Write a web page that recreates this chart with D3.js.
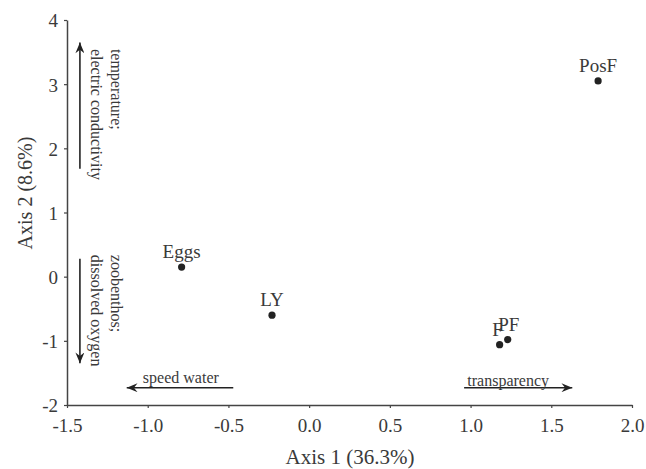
<!DOCTYPE html>
<html>
<head>
<meta charset="utf-8">
<script src="https://cdn.jsdelivr.net/npm/d3@7"></script>
<style>
  body { margin: 0; background: #fff; }
  text { font-family: "Liberation Serif", "Times New Roman", serif; fill: #3a3a3a; }
</style>
</head>
<body>
<div id="chart"></div>
<script>
// sample scores on the first two axes
var names = ["PosF", "Eggs", "LY", "F", "PF"];
var axis1 = [1.79, -0.79, -0.23, 1.18, 1.23];
var axis2 = [3.05, 0.15, -0.60, -1.06, -0.98];

var xTicks = [-1.5, -1.0, -0.5, 0.0, 0.5, 1.0, 1.5, 2.0];
var yTicks = [-2, -1, 0, 1, 2, 3, 4];

// environmental arrows (start, end in axis units)
var arrowNames = ["temperature;|electric conductivity", "zoobenthos;|dissolved oxygen", "speed water", "transparency"];
var arrowFrom = [[-1.42, 1.68], [-1.42, 0.28], [-0.47, -1.73], [0.96, -1.73]];
var arrowTo = [[-1.42, 3.65], [-1.42, -1.35], [-1.13, -1.73], [1.63, -1.73]];

var width = 646, height = 469;
var margin = {top: 20, right: 14, bottom: 64, left: 67};

var svg = d3.select("#chart").append("svg")
    .attr("width", width)
    .attr("height", height);

var x = d3.scaleLinear()
    .domain([-1.5, 2.0])
    .range([margin.left, width - margin.right]);
var y = d3.scaleLinear()
    .domain([-2, 4])
    .range([height - margin.bottom, margin.top]);

svg.append("defs").append("marker")
    .attr("id", "head")
    .attr("viewBox", "0 0 12 10")
    .attr("refX", 12).attr("refY", 5)
    .attr("markerWidth", 13).attr("markerHeight", 9)
    .attr("markerUnits", "userSpaceOnUse")
    .attr("orient", "auto")
  .append("path")
    .attr("d", "M0,0 L12,5 L0,10 L4,5 Z")
    .attr("fill", "#222");

var hyphen = function(f) { return function(d) { return f(d).replace("\u2212", "-"); }; };

// axes
var xAxis = svg.append("g")
    .attr("transform", "translate(0," + y(-2) + ")")
    .call(d3.axisBottom(x).tickValues(xTicks).tickFormat(hyphen(d3.format(".1f"))).tickSizeInner(3).tickSizeOuter(0).tickPadding(10));
var yAxis = svg.append("g")
    .attr("transform", "translate(" + x(-1.5) + ",0)")
    .call(d3.axisLeft(y).tickValues(yTicks).tickFormat(hyphen(d3.format("d"))).tickSizeInner(3).tickSizeOuter(0).tickPadding(6));

[xAxis, yAxis].forEach(function(a) {
  a.select(".domain").attr("stroke", "#444").attr("stroke-width", 1.5);
  a.selectAll(".tick line").attr("stroke", "#444").attr("stroke-width", 1.2);
  a.selectAll(".tick text")
    .style("font-family", "'Liberation Serif', serif")
    .style("font-size", "19px")
    .attr("fill", "#3a3a3a");
});
yAxis.selectAll(".tick text").attr("dy", "0.36em");
xAxis.selectAll(".tick text").attr("dy", "0.75em");

// axis titles
svg.append("text")
    .attr("x", 350).attr("y", 464)
    .attr("text-anchor", "middle")
    .style("font-size", "21px")
    .text("Axis 1 (36.3%)");
svg.append("text")
    .attr("transform", "translate(32,193) rotate(-90)")
    .attr("text-anchor", "middle")
    .style("font-size", "20px")
    .text("Axis 2 (8.6%)");

// arrows
arrowNames.forEach(function(name, i) {
  svg.append("line")
    .attr("x1", x(arrowFrom[i][0])).attr("y1", y(arrowFrom[i][1]))
    .attr("x2", x(arrowTo[i][0])).attr("y2", y(arrowTo[i][1]))
    .attr("stroke", "#222")
    .attr("stroke-width", 1.6)
    .attr("marker-end", "url(#head)");
});

// vertical arrow labels
function vLabel(lines, ax, ay) {
  var t = svg.append("text")
    .attr("transform", "translate(" + (x(ax) + 31) + "," + y(ay) + ") rotate(90)")
    .style("font-size", "16px");
  lines.forEach(function(l, k) {
    t.append("tspan").attr("x", 0).attr("dy", k === 0 ? 0 : "1.25em").text(l);
  });
}
vLabel(arrowNames[0].split("|"), -1.42, 3.55);
vLabel(arrowNames[1].split("|"), -1.42, 0.34);

// horizontal arrow labels
svg.append("text")
    .attr("x", x(-1.03)).attr("y", y(-1.73) - 5)
    .style("font-size", "16px")
    .text(arrowNames[2]);
svg.append("text")
    .attr("x", x(0.98)).attr("y", y(-1.73) - 2)
    .style("font-size", "16px")
    .text(arrowNames[3]);

// points
svg.append("g").selectAll("circle")
    .data(names)
    .enter()
    .append("circle")
    .attr("cx", function(d, i) { return x(axis1[i]); })
    .attr("cy", function(d, i) { return y(axis2[i]); })
    .attr("r", 3.6)
    .attr("fill", "#222");

svg.append("g").selectAll("text")
    .data(names)
    .enter()
    .append("text")
    .attr("x", function(d, i) { return x(axis1[i]) + (d === "F" ? -2 : d === "PF" ? 1 : 0); })
    .attr("y", function(d, i) { return y(axis2[i]) - 9; })
    .attr("text-anchor", "middle")
    .style("font-size", "19px")
    .text(function(d) { return d; });
</script>
</body>
</html>
